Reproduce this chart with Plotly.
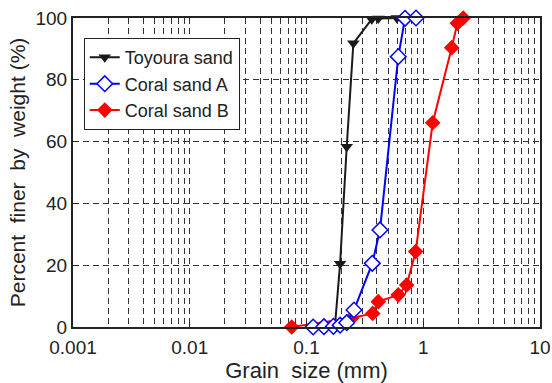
import plotly.graph_objects as go

# Toyoura sand
toy_x = [0.175, 0.194, 0.221, 0.252, 0.362, 0.412, 0.593]
toy_y = [0, 20.5, 58.3, 91.8, 99.6, 99.8, 100]
# Coral sand A
ca_x = [0.114, 0.141, 0.170, 0.194, 0.221, 0.255, 0.366, 0.426, 0.611, 0.698, 0.867]
ca_y = [0, 0.1, 0.2, 0.6, 1.4, 5.5, 20.6, 31.4, 87.5, 99.9, 100]
# Coral sand B
cb_x = [0.0747, 0.244, 0.369, 0.412, 0.611, 0.721, 0.861, 1.205, 1.753, 1.96, 2.2]
cb_y = [0, 2.9, 4.4, 8.2, 10.4, 13.6, 24.4, 66.1, 90.4, 98.3, 100]

x_tickvals = [0.001, 0.01, 0.1, 1, 10]
x_ticktext = ["0.001", "0.01", "0.1", "1", "10"]
y_tickvals = [0, 20, 40, 60, 80, 100]

minor_vals = [m * 10 ** e for e in range(-3, 1) for m in range(2, 10)]

FONT = "Liberation Sans, Arial, sans-serif"

fig = go.Figure()
fig.add_trace(go.Scatter(
    x=cb_x, y=cb_y, name="Coral sand B", mode="lines+markers", legendrank=3,
    line=dict(color="#ff0000", width=2),
    marker=dict(symbol="diamond", size=12, color="#ff0000"),
    cliponaxis=False))
fig.add_trace(go.Scatter(
    x=toy_x, y=toy_y, name="Toyoura sand", mode="lines+markers", legendrank=1,
    line=dict(color="#1a1a1a", width=2),
    marker=dict(symbol="triangle-down", size=11, color="#1a1a1a"),
    cliponaxis=False))
fig.add_trace(go.Scatter(
    x=ca_x, y=ca_y, name="Coral sand A", mode="lines+markers", legendrank=2,
    line=dict(color="#0000ff", width=2),
    marker=dict(symbol="diamond", size=12, color="white",
                line=dict(color="#0000ff", width=1.5)),
    cliponaxis=False))

fig.update_layout(
    width=552, height=383,
    margin=dict(l=73, r=12, t=18, b=56, autoexpand=False),
    paper_bgcolor="white", plot_bgcolor="white",
    font=dict(family=FONT, size=19, color="#222"),
    showlegend=True,
    legend=dict(x=0.023, y=0.935, xanchor="left", yanchor="top",
                bgcolor="white", bordercolor="#222", borderwidth=1,
                font=dict(size=18, family=FONT, color="#222"),
                tracegroupgap=0, itemwidth=30),
    xaxis=dict(
        type="log", range=[-3, 1], automargin=False,
        tickvals=x_tickvals, ticktext=x_ticktext,
        ticks="inside", ticklen=5, tickcolor="#222",
        showline=True, linecolor="#222", linewidth=2, mirror=True,
        showgrid=True, gridcolor="#333", gridwidth=1, griddash="6px,4px",
        minor=dict(tickvals=minor_vals, showgrid=True, gridcolor="#333",
                   gridwidth=1, griddash="6px,4px", ticks=""),
        title=dict(text="Grain\u00a0 size (mm)", font=dict(size=22), standoff=1),
        tickfont=dict(size=19),
        ticklabelstandoff=2,
        zeroline=False,
    ),
    yaxis=dict(
        range=[0, 100], tickvals=y_tickvals, automargin=False,
        ticks="inside", ticklen=5, tickcolor="#222",
        showline=True, linecolor="#222", linewidth=2, mirror=True,
        showgrid=True, gridcolor="#333", gridwidth=1, griddash="6px,4px",
        title=dict(text="Percent\u00a0 finer\u00a0 by\u00a0 weight (%)", font=dict(size=21), standoff=4),
        tickfont=dict(size=19),
        zeroline=False,
    ),
)

fig.write_html("out.html")
